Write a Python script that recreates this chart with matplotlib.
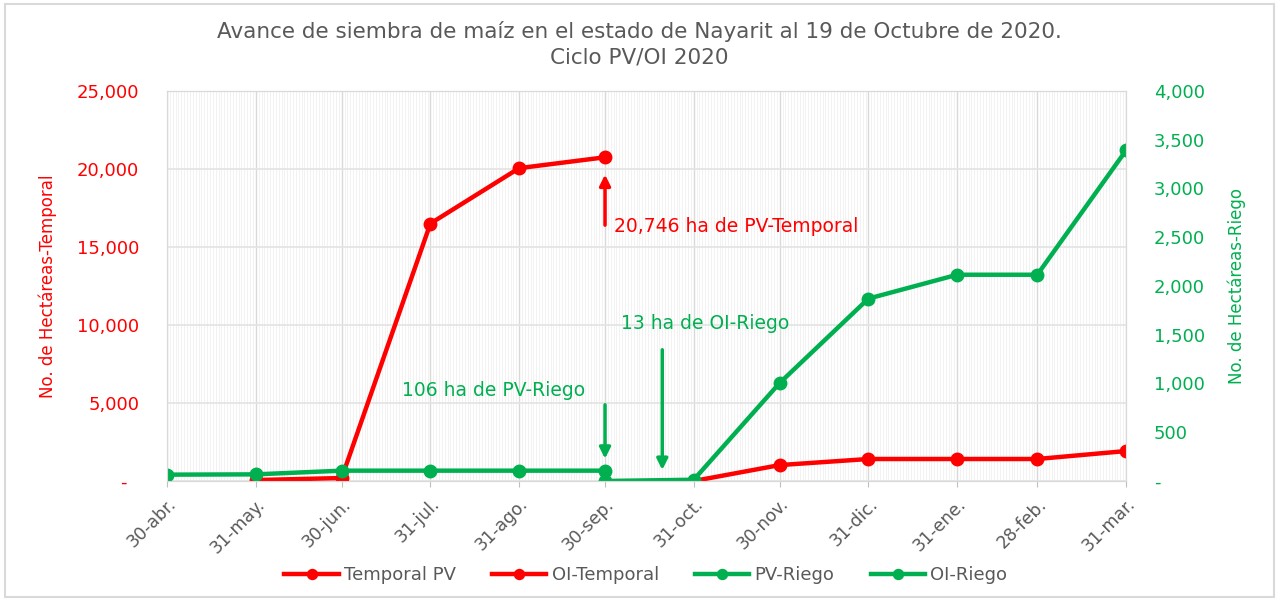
import numpy as np
import pandas as pd
import matplotlib
matplotlib.use('AGG')
import matplotlib.pyplot as plt
import matplotlib.dates as mdates
from matplotlib.ticker import FuncFormatter, MultipleLocator

plt.rcParams['font.family'] = ['DejaVu Sans']

# data
fechas = ['2020-04-30', '2020-05-31', '2020-06-30', '2020-07-31', '2020-08-31', '2020-09-30',
          '2020-10-31', '2020-11-30', '2020-12-31', '2021-01-31', '2021-02-28', '2021-03-31']
etiquetas = ['30-abr.', '31-may.', '30-jun.', '31-jul.', '31-ago.', '30-sep.',
             '31-oct.', '30-nov.', '31-dic.', '31-ene.', '28-feb.', '31-mar.']

temporal_pv_fechas = ['2020-05-31', '2020-06-30', '2020-07-31', '2020-08-31', '2020-09-30']
temporal_pv = [60, 190, 16500, 20050, 20746]

oi_temporal_fechas = ['2020-10-31', '2020-11-30', '2020-12-31', '2021-01-31', '2021-02-28', '2021-03-31']
oi_temporal = [0, 1020, 1410, 1410, 1410, 1920]

pv_riego_fechas = ['2020-04-30', '2020-05-31', '2020-06-30', '2020-07-31', '2020-08-31', '2020-09-30']
pv_riego = [65, 68, 106, 106, 106, 106]

oi_riego_fechas = ['2020-09-30', '2020-10-31', '2020-11-30', '2020-12-31', '2021-01-31', '2021-02-28', '2021-03-31']
oi_riego = [0, 13, 1005, 1870, 2115, 2115, 3390]

ROJO = '#FF0000'
VERDE = '#00B050'
GRIS = '#595959'

def d(lista):
    return pd.to_datetime(lista)

def fmt_izq(v, pos):
    if abs(v) < 1e-9:
        return '-  '
    return f'{v:,.0f}'

def fmt_der(v, pos):
    if abs(v) < 1e-9:
        return '-'
    return f'{v:,.0f}'

fig = plt.figure(figsize=(12.79, 6.02), dpi=100)
fig.patches.append(plt.Rectangle((0.004, 0.008), 0.992, 0.985, transform=fig.transFigure,
                                 fill=False, edgecolor='#d9d9d9', linewidth=1.5))
ax = fig.add_axes([0.1306, 0.201, 0.7498, 0.648])
ax2 = ax.twinx()

ax.set_xlim(d(['2020-04-30'])[0], d(['2021-03-31'])[0])
ax.set_ylim(0, 25000)
ax2.set_ylim(0, 4000)

ax.yaxis.set_major_locator(MultipleLocator(5000))
ax2.yaxis.set_major_locator(MultipleLocator(500))
ax.yaxis.set_major_formatter(FuncFormatter(fmt_izq))
ax2.yaxis.set_major_formatter(FuncFormatter(fmt_der))

ax.set_xticks(d(fechas))
ax.set_xticklabels(etiquetas, rotation=45, ha='right', rotation_mode='anchor',
                   color=GRIS, fontsize=12.5)
ax.xaxis.set_minor_locator(mdates.DayLocator())

ax.grid(axis='y', color='#e3e3e3', linewidth=1.2)
ax.grid(axis='x', which='major', color='#d9d9d9', linewidth=1.0)
ax.grid(axis='x', which='minor', color='#f0f0f0', linewidth=0.6)
ax.set_axisbelow(True)

for a in (ax, ax2):
    for s in a.spines.values():
        s.set_color('#d9d9d9')
ax.tick_params(axis='x', which='major', length=4, color='#bfbfbf', pad=6)
ax.tick_params(axis='x', which='minor', length=0)
ax.tick_params(axis='y', length=0, labelcolor=ROJO, labelsize=13, pad=20)
ax2.tick_params(axis='y', which='both', length=0, labelcolor=VERDE, labelsize=13, pad=20)

ax.set_ylabel('No. de Hectáreas-Temporal', color=ROJO, fontsize=12, labelpad=14)
ax2.set_ylabel('No. de Hectáreas-Riego', color=VERDE, fontsize=12, labelpad=16)

lw = 3.2
ms = 9
l1, = ax.plot(d(temporal_pv_fechas), temporal_pv, color=ROJO, lw=lw, marker='o', ms=ms,
              label='Temporal PV', zorder=3)
l2, = ax.plot(d(oi_temporal_fechas), oi_temporal, color=ROJO, lw=lw, marker='o', ms=ms,
              label='OI-Temporal', zorder=3)
l3, = ax2.plot(d(pv_riego_fechas), pv_riego, color=VERDE, lw=lw, marker='o', ms=ms,
               label='PV-Riego', zorder=2)
l4, = ax2.plot(d(oi_riego_fechas), oi_riego, color=VERDE, lw=lw, marker='o', ms=ms,
               label='OI-Riego', zorder=2)

# annotations
sep30 = d(['2020-09-30'])[0]
oct20 = d(['2020-10-20'])[0]
ax2.annotate('', xy=(sep30, 3170), xytext=(sep30, 2595),
             arrowprops=dict(arrowstyle='-|>', color=ROJO, lw=2.5, mutation_scale=16))
ax2.text(d(['2020-10-03'])[0], 2610, '20,746 ha de PV-Temporal', color=ROJO, fontsize=13.5,
         va='center', ha='left')

ax2.annotate('', xy=(sep30, 200), xytext=(sep30, 810),
             arrowprops=dict(arrowstyle='-|>', color=VERDE, lw=2.5, mutation_scale=16))
ax2.text(d(['2020-08-22'])[0], 923, '106 ha de PV-Riego', color=VERDE, fontsize=13.5,
         va='center', ha='center')

ax2.annotate('', xy=(oct20, 85), xytext=(oct20, 1374),
             arrowprops=dict(arrowstyle='-|>', color=VERDE, lw=2.5, mutation_scale=16))
ax2.text(d(['2020-11-04'])[0], 1610, '13 ha de OI-Riego', color=VERDE, fontsize=13.5,
         va='center', ha='center')

fig.text(0.5, 0.947, 'Avance de siembra de maíz en el estado de Nayarit al 19 de Octubre de 2020.',
         ha='center', va='center', color=GRIS, fontsize=15.5)
fig.text(0.5, 0.905, 'Ciclo PV/OI 2020', ha='center', va='center', color=GRIS, fontsize=15.5)

fig.legend(handles=[l1, l2, l3, l4], loc='center', bbox_to_anchor=(0.505, 0.045), ncol=4,
           frameon=False, fontsize=13, labelcolor=GRIS, handlelength=3, markerscale=0.8,
           columnspacing=2.0, handletextpad=0.3)

fig.savefig('out.png', dpi=100)
